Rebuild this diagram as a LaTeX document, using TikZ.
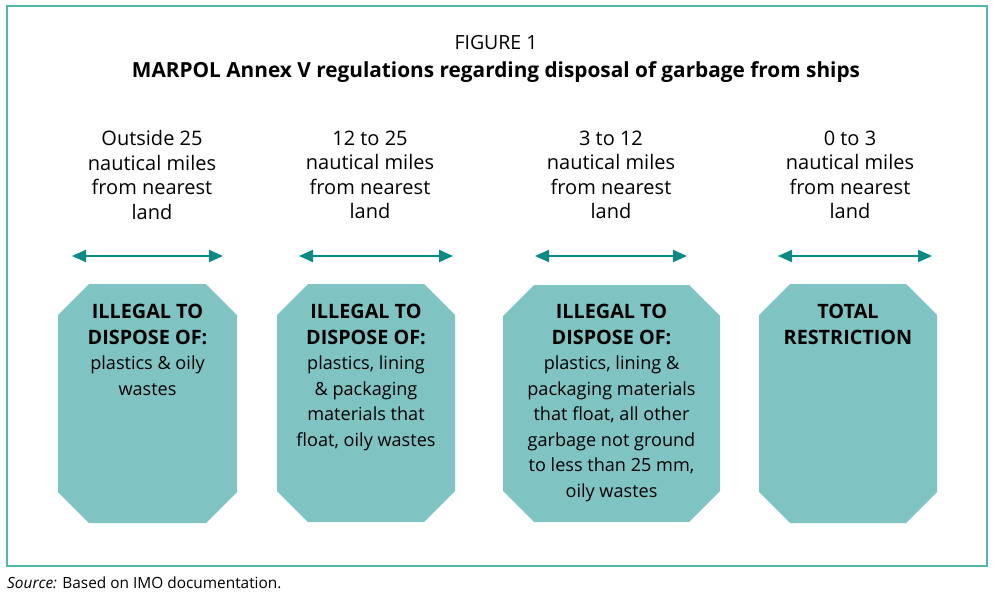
\documentclass[tikz,border=0pt]{standalone}
\usepackage{fontspec}
\setmainfont{Open Sans}
\usetikzlibrary{arrows.meta}
\definecolor{boxfill}{RGB}{128,195,195}
\definecolor{arrowc}{RGB}{10,138,132}
\definecolor{framec}{RGB}{84,180,174}
\newcommand\octabox[4]{%
  \fill[boxfill] (#1+31,#2) -- (#3-31,#2) -- (#3,#2+31) -- (#3,#4-31) -- (#3-31,#4)
    -- (#1+31,#4) -- (#1,#4-31) -- (#1,#2+31) -- cycle;}
\newcommand\bl[1]{{\fontsize{19.8}{25.5}\selectfont\bfseries #1}}
\tikzset{
  every node/.style={inner sep=0pt},
  hdr/.style={anchor=north, align=center, font=\fontsize{20}{24.5}\selectfont},
  boxtxt/.style={anchor=north, align=center, font=\fontsize{18.1}{25.5}\selectfont},
  span/.style={draw=arrowc, line width=2pt, {Triangle[length=14pt,width=12pt]}-{Triangle[length=14pt,width=12pt]}},
}
\begin{document}
\begin{tikzpicture}[x=1pt,y=-1pt]
\useasboundingbox (0,0) rectangle (993,602);
\draw[framec, line width=1.6pt] (7,6) rectangle (987,566);
\node[font=\fontsize{19.5}{22}\selectfont] (fig) at (496,43) {FIGURE 1};
\node[font=\fontsize{20.8}{22}\selectfont\bfseries] (title) at (496,72) {MARPOL Annex V regulations regarding disposal of garbage from ships};
% headers
\node[hdr] (h1) at (152,130.5) {Outside 25\\nautical miles\\from nearest\\land};
\node[hdr] (h2) at (370,130.5) {12 to 25\\nautical miles\\from nearest\\land};
\node[hdr] (h3) at (611,130.5) {3 to 12\\nautical miles\\from nearest\\land};
\node[hdr] (h4) at (850,130.5) {0 to 3\\nautical miles\\from nearest\\land};
% arrows
\coordinate (a1l) at (72,256); \coordinate (a1r) at (223,256);
\coordinate (a2l) at (299,256); \coordinate (a2r) at (453,256);
\coordinate (a3l) at (535,256); \coordinate (a3r) at (687,256);
\coordinate (a4l) at (778,256); \coordinate (a4r) at (932,256);
\draw[span] (a1l) -- (a1r);
\draw[span] (a2l) -- (a2r);
\draw[span] (a3l) -- (a3r);
\draw[span] (a4l) -- (a4r);
% boxes
\octabox{58}{284}{237}{523}
\octabox{277}{284}{455}{522}
\octabox{503}{285}{720}{522}
\octabox{759}{284}{937}{523}
\node[boxtxt] (t1) at (147.5,304) {\bl{ILLEGAL TO}\\\bl{DISPOSE OF:}\\plastics \& oily\\wastes};
\node[boxtxt] (t2) at (366,304) {\bl{ILLEGAL TO}\\\bl{DISPOSE OF:}\\plastics, lining\\\& packaging\\materials that\\float, oily wastes};
\node[boxtxt] (t3) at (611.5,304) {\bl{ILLEGAL TO}\\\bl{DISPOSE OF:}\\plastics, lining \&\\packaging materials\\that float, all other\\garbage not ground\\to less than 25 mm,\\oily wastes};
\node[boxtxt] (t4) at (848,304) {\bl{TOTAL}\\\bl{RESTRICTION}};
% source
\node[anchor=base west, font=\fontsize{15.4}{18}\selectfont] (src) at (7,588) {\textit{Source:} Based on IMO documentation.};
\end{tikzpicture}
\end{document}
